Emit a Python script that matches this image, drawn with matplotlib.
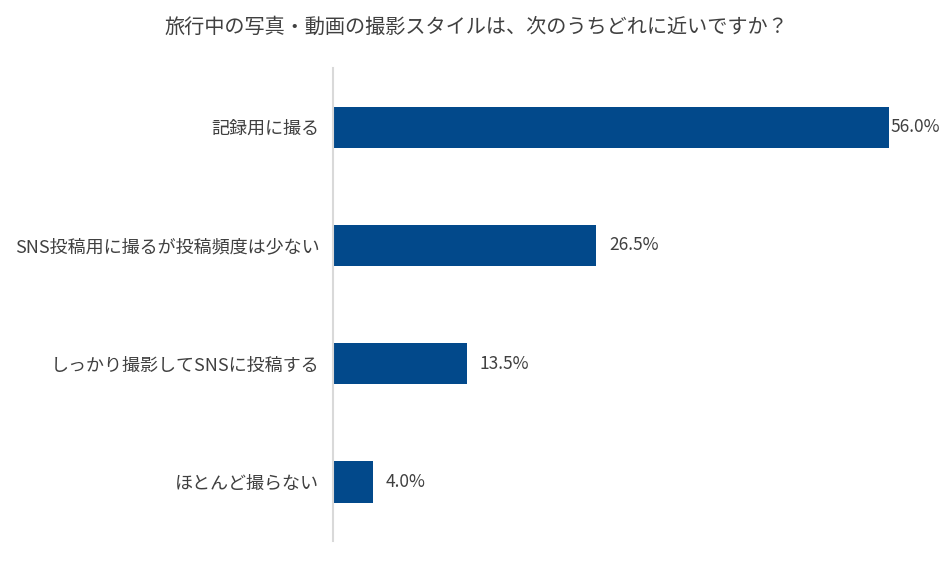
import matplotlib
matplotlib.use("Agg")
import matplotlib.pyplot as plt

plt.rcParams['font.family'] = ['Noto Sans CJK JP', 'DejaVu Sans']

TITLE = "旅行中の写真・動画の撮影スタイルは、次のうちどれに近いですか？"
categories = ["記録用に撮る", "SNS投稿用に撮るが投稿頻度は少ない", "しっかり撮影してSNSに投稿する", "ほとんど撮らない"]
values = [56.0, 26.5, 13.5, 4.0]

BARCOLOR = "#02498B"
TEXTCOLOR = "#404040"

fig = plt.figure(figsize=(9.52, 5.65), dpi=100)
ax = fig.add_axes([0.35, 0.0425, 0.625, 0.837])

ypos = list(range(len(categories)))
ax.barh(ypos, values, height=0.35, color=BARCOLOR)
ax.set_ylim(len(categories) - 0.5, -0.5)
ax.set_xlim(0, 60)

for y, v in zip(ypos, values):
    pad = 0.2 if v == max(values) else 1.3
    ax.text(v + pad, y, f"{v:.1f}%", ha="left", va="center", fontsize=12.5, color=TEXTCOLOR)

ax.set_yticks(ypos)
ax.set_yticklabels(categories, fontsize=13, color=TEXTCOLOR)
ax.tick_params(axis="y", length=0, pad=10)
ax.set_xticks([])
for s in ["top", "right", "bottom"]:
    ax.spines[s].set_visible(False)
ax.spines["left"].set_color("#d9d9d9")
ax.spines["left"].set_linewidth(1.5)

fig.text(0.5, 0.952, TITLE, ha="center", va="center", fontsize=14.5, color=TEXTCOLOR)

fig.savefig("out.png", dpi=100)
